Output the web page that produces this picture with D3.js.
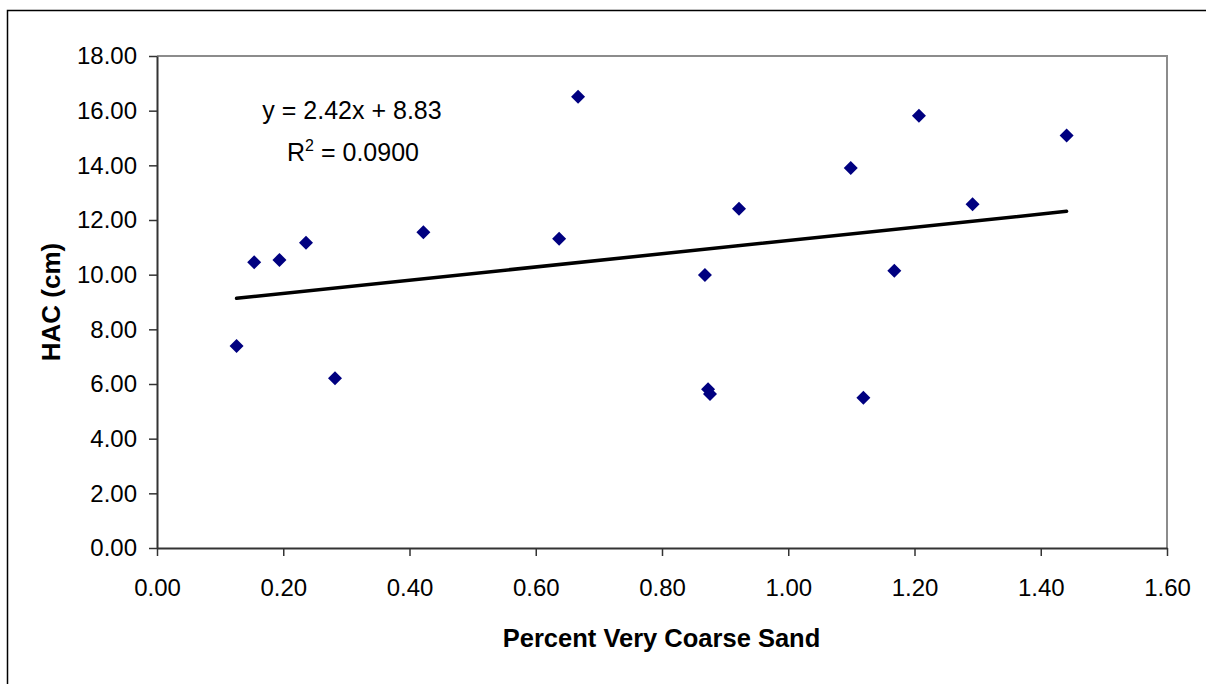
<!DOCTYPE html>
<html>
<head>
<meta charset="utf-8">
<script src="https://cdn.jsdelivr.net/npm/d3@7"></script>
<style>
  html, body { margin: 0; padding: 0; background: #fff; }
  svg { display: block; font-family: "Liberation Sans", Arial, sans-serif; }
</style>
</head>
<body>
<svg id="chart" width="1206" height="684"></svg>
<script>
// Percent very coarse sand vs. HAC measurements
const sandPct = [0.126, 0.154, 0.194, 0.236, 0.282, 0.422, 0.637, 0.667, 0.868,
                 0.873, 0.876, 0.922, 1.099, 1.119, 1.168, 1.207, 1.292, 1.441];
const hacCm   = [7.39, 10.45, 10.54, 11.17, 6.21, 11.55, 11.31, 16.51, 9.99,
                 5.81, 5.63, 12.41, 13.90, 5.50, 10.14, 15.81, 12.58, 15.09];

// Linear fit reported on the chart
const slope = 2.42;
const intercept = 8.83;
const rSquared = "0.0900";

const xTicks = [0, 0.2, 0.4, 0.6, 0.8, 1.0, 1.2, 1.4, 1.6];
const yTicks = [0, 2, 4, 6, 8, 10, 12, 14, 16, 18];

const svg = d3.select("#chart");
const plot = { left: 157, top: 56, right: 1167, bottom: 548 };

const x = d3.scaleLinear().domain([0, 1.6]).range([plot.left, plot.right]);
const y = d3.scaleLinear().domain([0, 18]).range([plot.bottom, plot.top]);

// Outer chart frame
svg.append("rect")
  .attr("x", 7.5).attr("y", 10.5)
  .attr("width", 1300).attr("height", 700)
  .attr("fill", "none").attr("stroke", "#000").attr("stroke-width", 1.5);

// Plot area border (top and right in gray)
svg.append("path")
  .attr("d", `M${plot.left},${plot.top}H${plot.right}V${plot.bottom}`)
  .attr("fill", "none").attr("stroke", "#8c8c8c").attr("stroke-width", 2);

// Axes
const xAxis = d3.axisBottom(x).tickValues(xTicks).tickFormat(d3.format(".2f"))
  .tickSizeInner(8).tickSizeOuter(0).tickPadding(23);
const yAxis = d3.axisLeft(y).tickValues(yTicks).tickFormat(d3.format(".2f"))
  .tickSizeInner(8).tickSizeOuter(0).tickPadding(12);

const gx = svg.append("g").attr("transform", `translate(0,${plot.bottom})`).call(xAxis);
const gy = svg.append("g").attr("transform", `translate(${plot.left},0)`).call(yAxis);

[gx, gy].forEach(g => {
  g.select(".domain").attr("stroke", "#333").attr("stroke-width", 2);
  g.selectAll(".tick line").attr("stroke", "#333").attr("stroke-width", 1.5);
  g.selectAll(".tick text").attr("fill", "#000")
    .style("font-size", "24px").style("font-family", "'Liberation Sans', Arial, sans-serif");
});
gx.selectAll(".tick text").attr("dy", "0.71em");

// Axis titles
svg.append("text")
  .attr("x", (plot.left + plot.right) / 2 - 0.5).attr("y", 647)
  .attr("text-anchor", "middle")
  .style("font-size", "25.5px").style("font-weight", "bold")
  .text("Percent Very Coarse Sand");

svg.append("text")
  .attr("transform", `translate(60,${(plot.top + plot.bottom) / 2}) rotate(-90)`)
  .attr("text-anchor", "middle")
  .style("font-size", "26px").style("font-weight", "bold")
  .text("HAC (cm)");

// Trendline over the data range
const xMin = d3.min(sandPct), xMax = d3.max(sandPct);
svg.append("line")
  .attr("x1", x(xMin)).attr("y1", y(slope * xMin + intercept))
  .attr("x2", x(xMax)).attr("y2", y(slope * xMax + intercept))
  .attr("stroke", "#000").attr("stroke-width", 3.5).attr("stroke-linecap", "round");

// Diamond markers
const pts = sandPct.map((v, i) => ({ x: v, y: hacCm[i] }));
const r = 7;
svg.append("g").selectAll("path").data(pts).join("path")
  .attr("d", d => {
    const cx = x(d.x), cy = y(d.y);
    return `M${cx},${cy - r}L${cx + r},${cy}L${cx},${cy + r}L${cx - r},${cy}Z`;
  })
  .attr("fill", "#000080");

// Regression label
const eq = svg.append("g").style("font-size", "25px");
eq.append("text").attr("x", 352).attr("y", 119).attr("text-anchor", "middle")
  .text(`y = ${slope}x + ${intercept}`);
const r2 = eq.append("text").attr("x", 353).attr("y", 161).attr("text-anchor", "middle");
r2.append("tspan").text("R");
r2.append("tspan").attr("dy", -10).style("font-size", "16px").text("2");
r2.append("tspan").attr("dy", 10).text(` = ${rSquared}`);
</script>
</body>
</html>
